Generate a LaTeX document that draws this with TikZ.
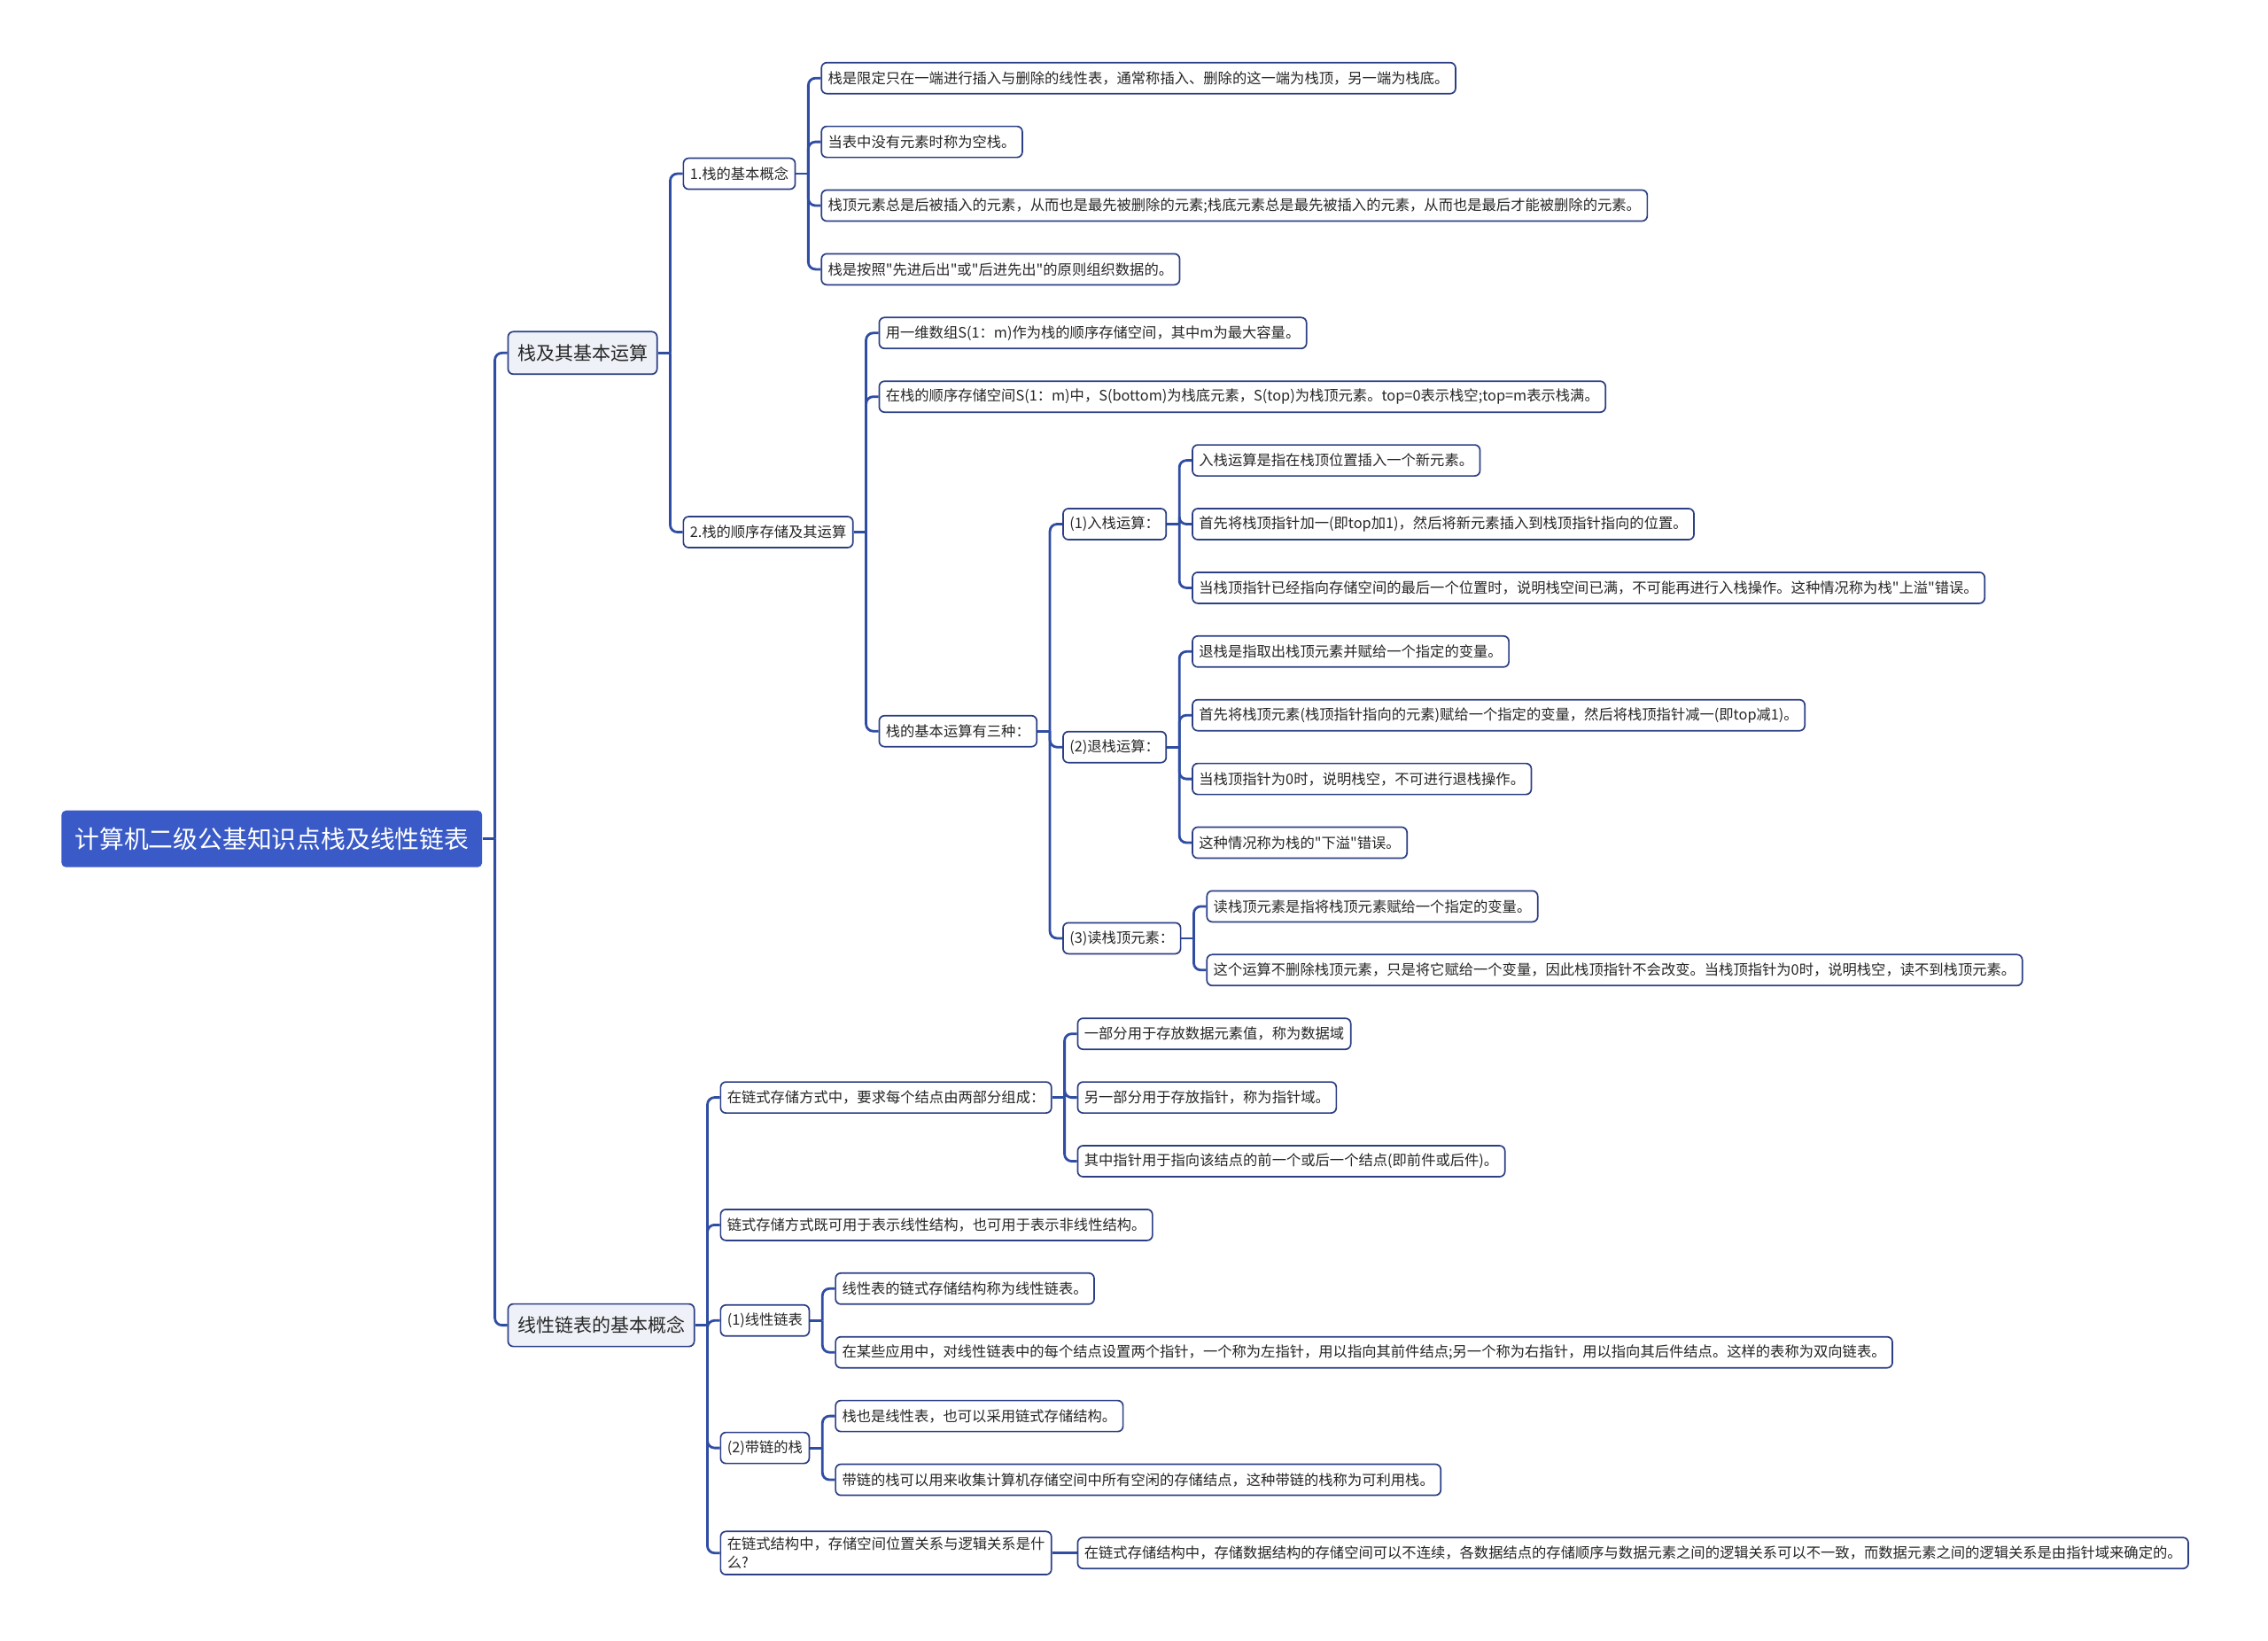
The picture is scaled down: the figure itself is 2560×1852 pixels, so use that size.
\documentclass[tikz,border=0pt]{standalone}
\usepackage{fontspec}
\setmainfont{Noto Sans CJK SC}[Ligatures=TeXOff]
\usepackage{xcolor}
\usepackage{tikz}
\usetikzlibrary{calc,backgrounds}
\definecolor{rootblue}{HTML}{3A5BC7}
\definecolor{linkblue}{HTML}{2F4DA3}
\definecolor{boxline}{HTML}{2C3F85}
\definecolor{mainfill}{HTML}{EEF1F7}
\definecolor{inktext}{HTML}{262626}
% spine point and start of the children column right of a parent node
\newcommand{\forkat}[1]{%
  \coordinate (#1-s) at ([xshift=7pt]#1.east);%
  \coordinate (#1-c) at ([xshift=14pt]#1.east);}

\begin{document}
\begin{tikzpicture}[
    x=0.5pt, y=-0.5pt,
    rootbox/.style={fill=rootblue, text=white, rounded corners=2.5pt, anchor=west, font=\fontsize{13.9}{16}\selectfont, inner xsep=7.5pt, minimum height=32pt},
    mainbox/.style={draw=boxline, fill=mainfill, line width=0.85pt, rounded corners=3pt, anchor=west, text=inktext, font=\fontsize{10.5}{13}\selectfont, inner xsep=5.3pt, minimum height=24pt},
    leaf/.style={draw=boxline, fill=white, line width=0.85pt, rounded corners=3pt, anchor=west, text=inktext, font=\fontsize{8.15}{10.25}\selectfont, inner xsep=3.7pt, minimum height=17.5pt},
    link/.style={draw=linkblue, line width=1.4pt, rounded corners=4pt}
]
\useasboundingbox (0,0) rectangle (2560,1852);

\node[rootbox] (root) at (69,946.7) {计算机二级公基知识点栈及线性链表};
\forkat{root}
\node[mainbox] (stk) at (root-c |- 0,398.3) {栈及其基本运算};
\node[mainbox] (lst) at (root-c |- 0,1495.6) {线性链表的基本概念};

% stack branch
\forkat{stk}
\node[leaf] (stkA) at (stk-c |- 0,196.05) {1.栈的基本概念};
\node[leaf] (stkB) at (stk-c |- 0,600.5) {2.栈的顺序存储及其运算};

\forkat{stkA}
\node[leaf] (conA) at (stkA-c |- 0,88.2) {栈是限定只在一端进行插入与删除的线性表，通常称插入、删除的这一端为栈顶，另一端为栈底。};
\node[leaf] (conB) at (stkA-c |- 0,160.1) {当表中没有元素时称为空栈。};
\node[leaf] (conC) at (stkA-c |- 0,232.0) {栈顶元素总是后被插入的元素，从而也是最先被删除的元素;栈底元素总是最先被插入的元素，从而也是最后才能被删除的元素。};
\node[leaf] (conD) at (stkA-c |- 0,303.9) {栈是按照"先进后出"或"后进先出"的原则组织数据的。};

\forkat{stkB}
\node[leaf] (seqA) at (stkB-c |- 0,375.8) {用一维数组S(1：m)作为栈的顺序存储空间，其中m为最大容量。};
\node[leaf] (seqB) at (stkB-c |- 0,447.7) {在栈的顺序存储空间S(1：m)中，S(bottom)为栈底元素，S(top)为栈顶元素。top=0表示栈空;top=m表示栈满。};
\node[leaf] (ops) at (stkB-c |- 0,825.2) {栈的基本运算有三种：};

\forkat{ops}
\node[leaf] (push) at (ops-c |- 0,591.5) {(1)入栈运算：};
\node[leaf] (pop) at (ops-c |- 0,843.2) {(2)退栈运算：};
\node[leaf] (peek) at (ops-c |- 0,1058.9) {(3)读栈顶元素：};

\forkat{push}
\node[leaf] (pushA) at (push-c |- 0,519.6) {入栈运算是指在栈顶位置插入一个新元素。};
\node[leaf] (pushB) at (push-c |- 0,591.5) {首先将栈顶指针加一(即top加1)，然后将新元素插入到栈顶指针指向的位置。};
\node[leaf] (pushC) at (push-c |- 0,663.4) {当栈顶指针已经指向存储空间的最后一个位置时，说明栈空间已满，不可能再进行入栈操作。这种情况称为栈"上溢"错误。};

\forkat{pop}
\node[leaf] (popA) at (pop-c |- 0,735.3) {退栈是指取出栈顶元素并赋给一个指定的变量。};
\node[leaf] (popB) at (pop-c |- 0,807.2) {首先将栈顶元素(栈顶指针指向的元素)赋给一个指定的变量，然后将栈顶指针减一(即top减1)。};
\node[leaf] (popC) at (pop-c |- 0,879.1) {当栈顶指针为0时，说明栈空，不可进行退栈操作。};
\node[leaf] (popD) at (pop-c |- 0,951.0) {这种情况称为栈的"下溢"错误。};

\forkat{peek}
\node[leaf] (peekA) at (peek-c |- 0,1022.9) {读栈顶元素是指将栈顶元素赋给一个指定的变量。};
\node[leaf] (peekB) at (peek-c |- 0,1094.8) {这个运算不删除栈顶元素，只是将它赋给一个变量，因此栈顶指针不会改变。当栈顶指针为0时，说明栈空，读不到栈顶元素。};

% linked list branch
\forkat{lst}
\node[leaf] (lnk) at (lst-c |- 0,1238.6) {在链式存储方式中，要求每个结点由两部分组成：};
\node[leaf] (rep) at (lst-c |- 0,1382.4) {链式存储方式既可用于表示线性结构，也可用于表示非线性结构。};
\node[leaf] (sll) at (lst-c |- 0,1490.3) {(1)线性链表};
\node[leaf] (lstk) at (lst-c |- 0,1634.1) {(2)带链的栈};
\node[leaf, align=left] (qst) at (lst-c |- 0,1752.7) {在链式结构中，存储空间位置关系与逻辑关系是什\\么?};

\forkat{lnk}
\node[leaf] (lnkA) at (lnk-c |- 0,1166.7) {一部分用于存放数据元素值，称为数据域};
\node[leaf] (lnkB) at (lnk-c |- 0,1238.6) {另一部分用于存放指针，称为指针域。};
\node[leaf] (lnkC) at (lnk-c |- 0,1310.5) {其中指针用于指向该结点的前一个或后一个结点(即前件或后件)。};

\forkat{sll}
\node[leaf] (sllA) at (sll-c |- 0,1454.3) {线性表的链式存储结构称为线性链表。};
\node[leaf] (sllB) at (sll-c |- 0,1526.2) {在某些应用中，对线性链表中的每个结点设置两个指针，一个称为左指针，用以指向其前件结点;另一个称为右指针，用以指向其后件结点。这样的表称为双向链表。};

\forkat{lstk}
\node[leaf] (lstkA) at (lstk-c |- 0,1598.1) {栈也是线性表，也可以采用链式存储结构。};
\node[leaf] (lstkB) at (lstk-c |- 0,1670.0) {带链的栈可以用来收集计算机存储空间中所有空闲的存储结点，这种带链的栈称为可利用栈。};

\forkat{qst}
\node[leaf] (ans) at (qst-c |- 0,1752.7) {在链式存储结构中，存储数据结构的存储空间可以不连续，各数据结点的存储顺序与数据元素之间的逻辑关系可以不一致，而数据元素之间的逻辑关系是由指针域来确定的。};

\begin{scope}[on background layer]
\foreach \p/\kids in {root/{stk,lst}, stk/{stkA,stkB}, stkA/{conA,conB,conC,conD},
    stkB/{seqA,seqB,ops}, ops/{push,pop,peek}, push/{pushA,pushB,pushC},
    pop/{popA,popB,popC,popD}, peek/{peekA,peekB}, lst/{lnk,rep,sll,lstk,qst},
    lnk/{lnkA,lnkB,lnkC}, sll/{sllA,sllB}, lstk/{lstkA,lstkB}}{
  \draw[link] (\p.east) -- (\p-s);
  \foreach \k in \kids \draw[link] (\k.west) -| (\p-s);
}
\draw[link] (qst.east) -- (ans.west);
\end{scope}
\end{tikzpicture}
\end{document}
